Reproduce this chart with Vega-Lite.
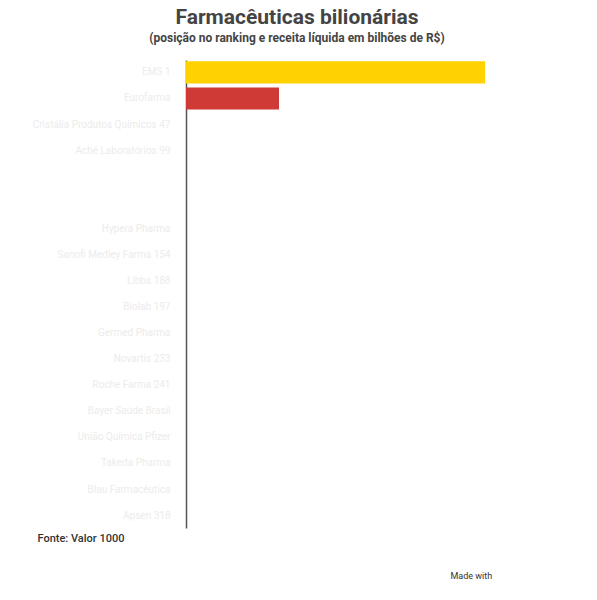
{
  "$schema": "https://vega.github.io/schema/vega-lite/v6.json",
  "width": 330,
  "height": 468,
  "autosize": {"type": "none"},
  "padding": {"left": 186, "top": 60, "right": 81, "bottom": 72},
  "background": "white",
  "title": {
    "text": "Farmacêuticas bilionárias",
    "subtitle": "(posição no ranking e receita líquida em bilhões de R$)",
    "anchor": "middle",
    "dx": -54,
    "offset": 16,
    "font": "Roboto",
    "fontSize": 21,
    "fontWeight": "bold",
    "color": "#444444",
    "subtitleFont": "Roboto",
    "subtitleFontSize": 12,
    "subtitleFontWeight": "bold",
    "subtitleColor": "#444444",
    "subtitlePadding": 5
  },
  "data": {
    "values": [
      {"empresa": "EMS  1", "receita": 5.98, "cor": "a"},
      {"empresa": "Eurofarma", "receita": 1.86, "cor": "b"},
      {"empresa": "Cristália Produtos Químicos 47", "receita": 0, "cor": "b"},
      {"empresa": "Aché  Laboratórios  99", "receita": 0, "cor": "b"},
      {"empresa": " ", "receita": 0, "cor": "b"},
      {"empresa": "  ", "receita": 0, "cor": "b"},
      {"empresa": "Hypera Pharma", "receita": 0, "cor": "b"},
      {"empresa": "Sanofi  Medley Farma  154", "receita": 0, "cor": "b"},
      {"empresa": "Libbs     188", "receita": 0, "cor": "b"},
      {"empresa": "Biolab   197", "receita": 0, "cor": "b"},
      {"empresa": "Germed  Pharma", "receita": 0, "cor": "b"},
      {"empresa": "Novartis  233", "receita": 0, "cor": "b"},
      {"empresa": "Roche  Farma  241", "receita": 0, "cor": "b"},
      {"empresa": "Bayer  Saúde  Brasil", "receita": 0, "cor": "b"},
      {"empresa": "União Química  Pfizer", "receita": 0, "cor": "b"},
      {"empresa": "Takeda  Pharma", "receita": 0, "cor": "b"},
      {"empresa": "Blau  Farmacêutica", "receita": 0, "cor": "b"},
      {"empresa": "Apsen  318", "receita": 0, "cor": "b"}
    ]
  },
  "mark": {"type": "bar", "clip": false},
  "encoding": {
    "y": {
      "field": "empresa",
      "type": "nominal",
      "sort": null,
      "scale": {"paddingInner": 0.15, "paddingOuter": 0.05},
      "axis": {
        "title": "Made with",
        "titleAngle": 0,
        "titleX": 264,
        "titleY": 515,
        "titleAlign": "left",
        "titleBaseline": "middle",
        "titleFont": "Roboto",
        "titleFontSize": 9,
        "titleFontWeight": "normal",
        "titleColor": "#333333",
        "ticks": false,
        "labelPadding": 16,
        "labelFont": "Roboto",
        "labelFontSize": 10,
        "labelColor": "#ececec",
        "domainColor": "#555555",
        "domainWidth": 1.5,
        "labelLimit": 140
      }
    },
    "x": {
      "field": "receita",
      "type": "quantitative",
      "scale": {"domain": [0, 6.6], "nice": false},
      "axis": {
        "title": "Fonte: Valor 1000",
        "titleAnchor": "start",
        "titleAlign": "left",
        "titleX": -149,
        "titleY": 10,
        "titleBaseline": "middle",
        "titleFont": "Roboto",
        "titleFontSize": 11,
        "titleFontWeight": 500,
        "titleColor": "#333333",
        "labels": false,
        "ticks": false,
        "domain": false,
        "grid": false
      }
    },
    "color": {
      "field": "cor",
      "type": "nominal",
      "scale": {"domain": ["a", "b"], "range": ["#ffd200", "#cf3a37"]},
      "legend": null
    }
  },
  "config": {"view": {"stroke": null}}
}
